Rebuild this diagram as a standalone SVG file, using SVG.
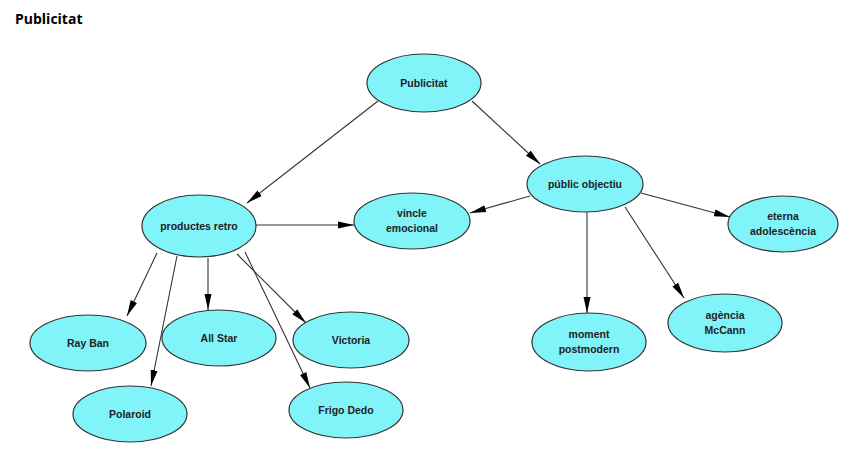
<svg xmlns="http://www.w3.org/2000/svg" width="850" height="456" viewBox="0 0 850 456">
<defs>
<style>
.n ellipse{fill:#80F4F8;stroke:#333;stroke-width:1.2}
.n text{font-family:"Liberation Sans",Arial,sans-serif;font-size:10.5px;font-weight:bold;fill:#222;text-anchor:middle}
.e line{stroke:#333;stroke-width:1.1;marker-end:url(#arr)}
.title{font-family:"Open Sans","Liberation Sans",sans-serif;font-size:14px;font-weight:bold;fill:#000}
</style>
<marker id="arr" viewBox="0 0 16 10" refX="16" refY="5" markerWidth="16" markerHeight="10" markerUnits="userSpaceOnUse" orient="auto">
<path d="M0,1.5 L16,5 L0,8.5 Z" fill="#000"/>
</marker>
</defs>
<rect width="850" height="456" fill="#fff"/>
<text class="title" x="15" y="24">Publicitat</text>
<g class="e" id="connectors">
<line x1="378" y1="101" x2="247" y2="203"/>
<line x1="472" y1="101" x2="540" y2="164"/>
<line x1="256" y1="225" x2="354" y2="225"/>
<line x1="530" y1="196" x2="470" y2="213"/>
<line x1="641" y1="193" x2="730" y2="217"/>
<line x1="587" y1="212" x2="587" y2="313"/>
<line x1="625" y1="207" x2="684" y2="298"/>
<line x1="157" y1="253" x2="127" y2="316"/>
<line x1="177" y1="256" x2="151" y2="386"/>
<line x1="208" y1="258" x2="208" y2="310"/>
<line x1="237" y1="254" x2="306" y2="323"/>
<line x1="245" y1="252" x2="310" y2="388"/>
</g>
<g class="n" id="publicitat"><ellipse cx="424" cy="83" rx="57" ry="29"/><text x="424" y="87">Publicitat</text></g>
<g class="n" id="productes-retro"><ellipse cx="199" cy="226" rx="57" ry="31"/><text x="199" y="230">productes retro</text></g>
<g class="n" id="vincle-emocional"><ellipse cx="412" cy="221" rx="58" ry="28"/><text x="412" y="217">vincle</text><text x="412" y="232">emocional</text></g>
<g class="n" id="public-objectiu"><ellipse cx="585" cy="184" rx="58" ry="28"/><text x="585" y="188">públic objectiu</text></g>
<g class="n" id="eterna-adolescencia"><ellipse cx="783" cy="224" rx="55" ry="28"/><text x="783" y="220">eterna</text><text x="783" y="235">adolescència</text></g>
<g class="n" id="ray-ban"><ellipse cx="88" cy="343" rx="58" ry="28"/><text x="88" y="347">Ray Ban</text></g>
<g class="n" id="all-star"><ellipse cx="219" cy="338" rx="57" ry="28"/><text x="219" y="342">All Star</text></g>
<g class="n" id="victoria"><ellipse cx="351" cy="340" rx="58" ry="28"/><text x="351" y="344">Victoria</text></g>
<g class="n" id="polaroid"><ellipse cx="130" cy="414" rx="57" ry="28"/><text x="130" y="418">Polaroid</text></g>
<g class="n" id="frigo-dedo"><ellipse cx="346" cy="410" rx="57" ry="28"/><text x="346" y="414">Frigo Dedo</text></g>
<g class="n" id="moment-postmodern"><ellipse cx="589" cy="342" rx="57" ry="29"/><text x="589" y="338">moment</text><text x="589" y="353">postmodern</text></g>
<g class="n" id="agencia-mccann"><ellipse cx="725" cy="323" rx="57" ry="29"/><text x="725" y="319">agència</text><text x="725" y="334">McCann</text></g>
</svg>
